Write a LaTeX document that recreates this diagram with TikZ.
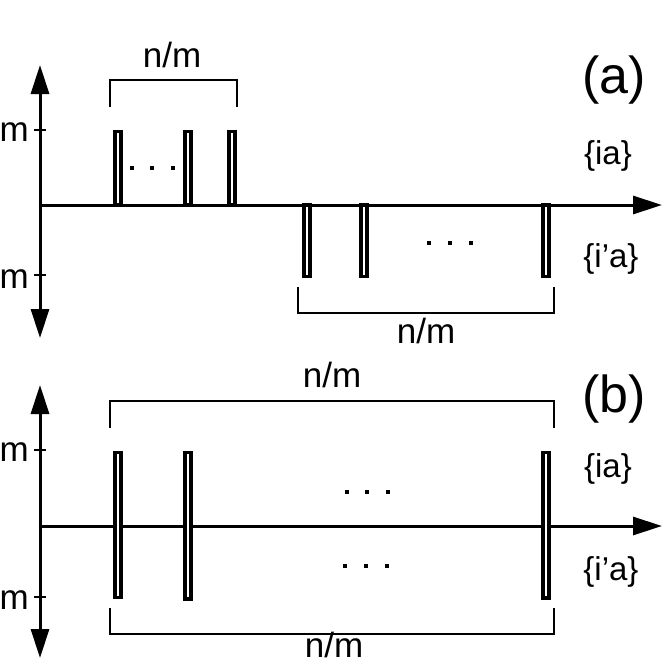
\documentclass[tikz,border=0pt]{standalone}
\usepackage{fontspec}
\setmainfont{Liberation Sans}
\usetikzlibrary{arrows.meta}
\begin{document}
\begin{tikzpicture}[x=1pt,y=-1pt,
  axis/.style={line width=3pt,-{Triangle[length=29pt,width=18pt]}},
  tickmark/.style={line width=2pt},
  pulse/.style={draw=black,line width=3.2pt,fill=white},
  bracketline/.style={line width=1.4pt},
  lbl/.style={inner sep=0pt,font=\fontsize{35}{40}\selectfont},
  setlbl/.style={inner sep=0pt,font=\fontsize{33}{38}\selectfont},
  panellbl/.style={inner sep=0pt,font=\fontsize{52}{58}\selectfont},
  dotmark/.style={fill=black,minimum size=4pt,inner sep=0pt}]
\useasboundingbox (0,0) rectangle (664,665);

% ---------- panel (a) ----------
\coordinate (atop) at (40,65);
\coordinate (abot) at (40,338);
\coordinate (aright) at (662,205);
\draw[axis] (40,206) -- (atop);
\draw[axis] (40,204) -- (abot);
\draw[axis] (38.5,205) -- (aright);
\draw[tickmark] (34,130) -- (46,130);
\draw[tickmark] (34,275) -- (46,275);
\node[lbl,anchor=base east] (am1) at (29,141) {m};
\node[lbl,anchor=base east] (am2) at (29,288) {m};

\foreach \x in {118,188,232}
  \draw[pulse] (\x-3,131.5) rectangle (\x+3,205);
\foreach \x in {307,364,546}
  \draw[pulse] (\x-3,205) rectangle (\x+3,276.5);

\foreach \x/\n in {132/1,152/2,173/3}
  \node[dotmark] (adu\n) at (\x,168) {};
\foreach \x/\n in {429/1,450/2,471/3}
  \node[dotmark] (add\n) at (\x,243) {};

\draw[bracketline] (110,107) -- (110,80) -- (237,80) -- (237,107);
\node[lbl,anchor=base] (anm1) at (172,67) {n/m};
\draw[bracketline] (298,287) -- (298,313) -- (554,313) -- (554,287);
\node[lbl,anchor=base] (anm2) at (426,343) {n/m};

\node[panellbl,anchor=base] (alabel) at (614,93) {(a)};
\node[setlbl,anchor=base] (aia) at (608,164) {\{ia\}};
\node[setlbl,anchor=base] (aiia) at (611,267) {\{i’a\}};

% ---------- panel (b) ----------
\coordinate (btop) at (40,385);
\coordinate (bbot) at (40,658);
\coordinate (bright) at (662,526);
\draw[axis] (40,527) -- (btop);
\draw[axis] (40,525) -- (bbot);
\draw[axis] (38.5,526) -- (bright);
\draw[tickmark] (34,450) -- (46,450);
\draw[tickmark] (34,597) -- (46,597);
\node[lbl,anchor=base east] (bm1) at (29,461) {m};
\node[lbl,anchor=base east] (bm2) at (29,609) {m};

\foreach \x/\b in {118/597.5,188/599,546/598}
  \draw[pulse] (\x-3,452.5) rectangle (\x+3,\b);

\foreach \x/\n in {347/1,367/2,388/3}
  \node[dotmark] (bdu\n) at (\x,492) {};
\foreach \x/\n in {345/1,366/2,387/3}
  \node[dotmark] (bdd\n) at (\x,566) {};

\draw[bracketline] (110,428) -- (110,401) -- (554,401) -- (554,428);
\node[lbl,anchor=base] (bnm1) at (332,387) {n/m};
\draw[bracketline] (110,608) -- (110,634) -- (554,634) -- (554,608);
\node[lbl,anchor=base] (bnm2) at (334,657) {n/m};

\node[panellbl,anchor=base] (blabel) at (614,412) {(b)};
\node[setlbl,anchor=base] (bia) at (608,477) {\{ia\}};
\node[setlbl,anchor=base] (biia) at (611,580) {\{i’a\}};
\end{tikzpicture}
\end{document}
